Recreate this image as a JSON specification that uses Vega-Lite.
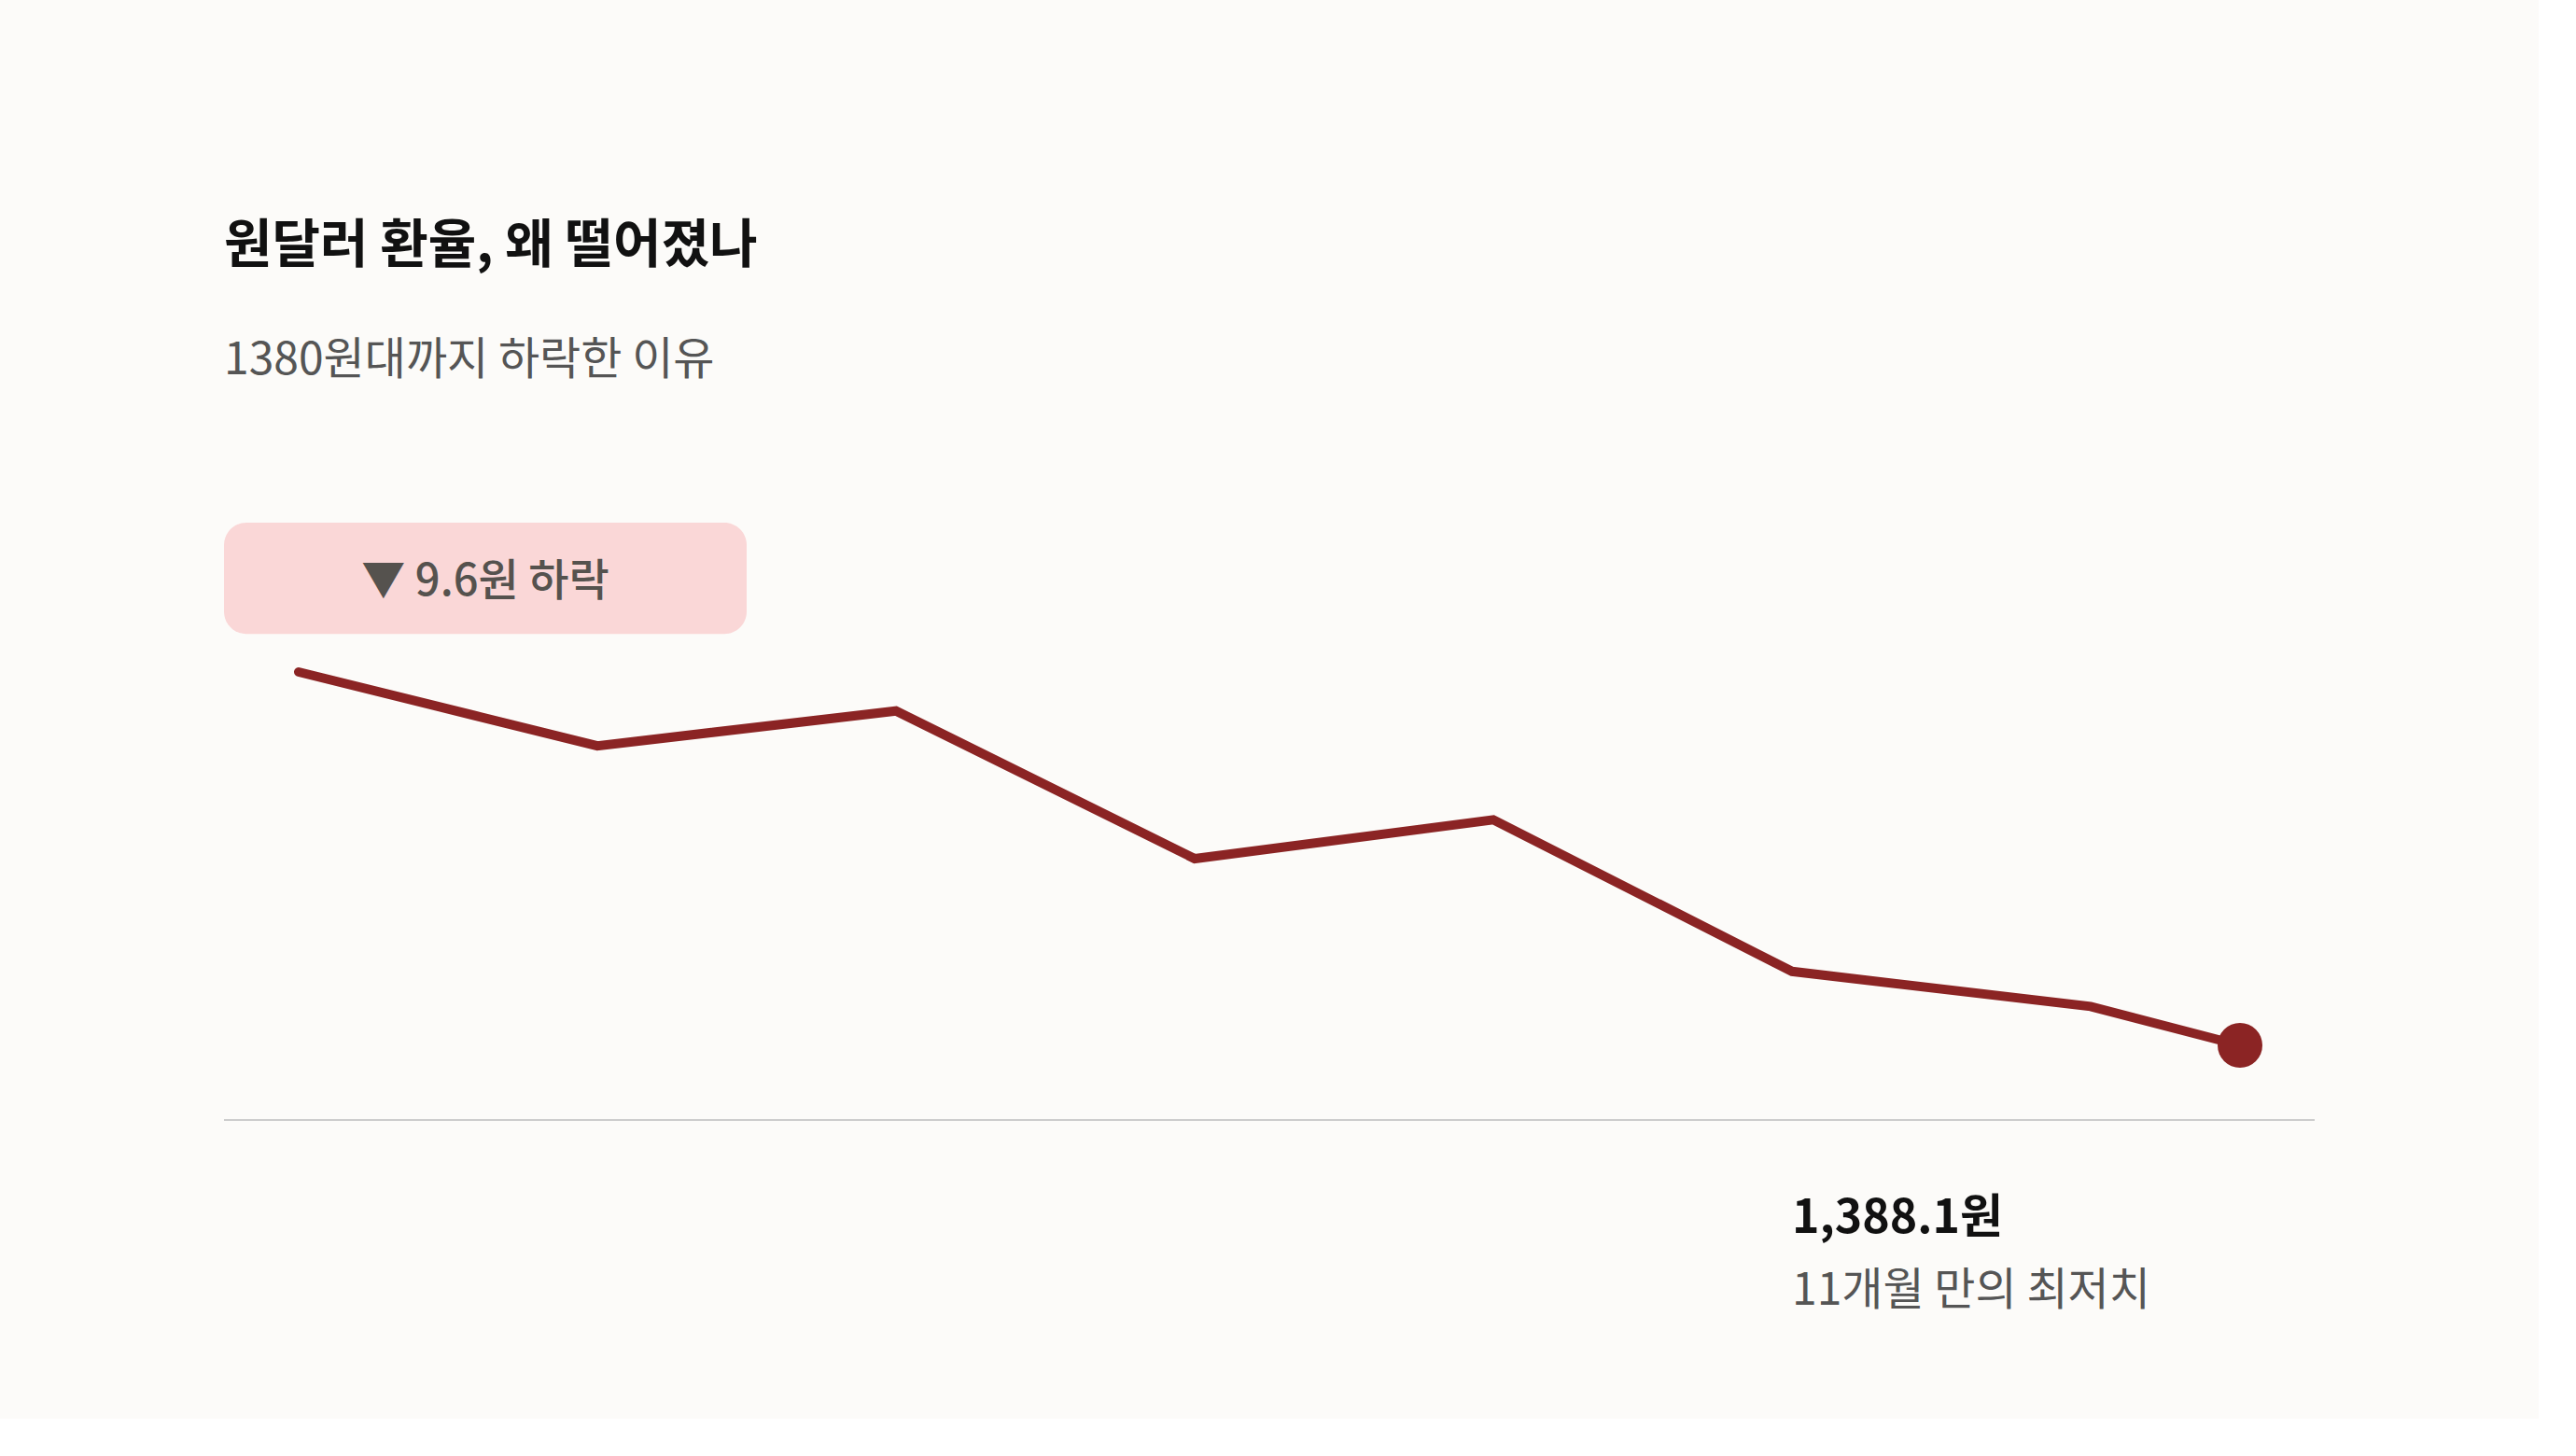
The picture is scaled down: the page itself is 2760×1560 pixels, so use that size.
{
  "$schema": "https://vega.github.io/schema/vega-lite/v6.json",
  "width": 2240,
  "height": 640,
  "autosize": {"type": "none"},
  "padding": {"left": 240, "top": 560, "right": 240, "bottom": 320},
  "background": "#fcfbf9",
  "config": {
    "view": {"stroke": null},
    "font": "Noto Sans CJK KR",
    "axis": {"disable": true}
  },
  "title": {
    "text": "원달러 환율, 왜 떨어졌나",
    "subtitle": "1380원대까지 하락한 이유",
    "anchor": "start",
    "frame": "group",
    "font": "Noto Sans CJK KR",
    "fontSize": 56,
    "fontWeight": "bold",
    "color": "#111111",
    "subtitleFont": "Noto Sans CJK KR",
    "subtitleFontSize": 48,
    "subtitleFontWeight": "normal",
    "subtitleColor": "#555555",
    "subtitlePadding": 70,
    "offset": 148
  },
  "datasets": {
    "rate": [
      {"t": 1, "rate": 1397.7},
      {"t": 2, "rate": 1395.8},
      {"t": 3, "rate": 1396.7},
      {"t": 4, "rate": 1392.9},
      {"t": 5, "rate": 1393.9},
      {"t": 6, "rate": 1390.0},
      {"t": 7, "rate": 1389.1},
      {"t": 7.5, "rate": 1388.1}
    ],
    "badge": [{"label": "▼ 9.6원 하락"}],
    "value": [{"label": "1,388.1원"}],
    "note": [{"label": "11개월 만의 최저치"}]
  },
  "layer": [
    {
      "data": {"name": "badge"},
      "mark": {"type": "rect", "color": "#fad7d7", "cornerRadius": 24},
      "encoding": {
        "x": {"datum": 0.75, "type": "quantitative", "scale": {"domain": [0.75, 7.75], "nice": false, "zero": false}},
        "x2": {"datum": 2.5},
        "y": {"datum": 1401.54, "type": "quantitative", "scale": {"domain": [1386.18, 1401.54], "nice": false, "zero": false}},
        "y2": {"datum": 1398.68}
      }
    },
    {
      "data": {"name": "badge"},
      "mark": {"type": "text", "font": "Noto Sans CJK KR", "fontSize": 47, "fontWeight": 500, "color": "#55524e", "align": "center", "baseline": "middle"},
      "encoding": {
        "text": {"field": "label"},
        "x": {"datum": 1.625, "type": "quantitative"},
        "y": {"datum": 1400.0, "type": "quantitative"}
      }
    },
    {
      "data": {"values": [{}]},
      "mark": {"type": "rule", "color": "#cccccc", "strokeWidth": 2},
      "encoding": {
        "x": {"datum": 0.75, "type": "quantitative"},
        "x2": {"datum": 7.75},
        "y": {"datum": 1386.18, "type": "quantitative"}
      }
    },
    {
      "data": {"name": "rate"},
      "mark": {"type": "line", "color": "#8b2424", "strokeWidth": 10, "strokeCap": "round", "strokeJoin": "miter"},
      "encoding": {
        "x": {"field": "t", "type": "quantitative", "axis": null},
        "y": {"field": "rate", "type": "quantitative", "axis": null}
      }
    },
    {
      "data": {"name": "rate"},
      "transform": [{"filter": "datum.t == 7.5"}],
      "mark": {"type": "circle", "color": "#8b2424", "size": 2304, "opacity": 1},
      "encoding": {
        "x": {"field": "t", "type": "quantitative", "axis": null},
        "y": {"field": "rate", "type": "quantitative", "axis": null}
      }
    },
    {
      "data": {"name": "value"},
      "mark": {"type": "text", "font": "Noto Sans CJK KR", "fontSize": 50, "fontWeight": "bold", "color": "#111111", "align": "left", "baseline": "alphabetic"},
      "encoding": {
        "text": {"field": "label"},
        "x": {"datum": 6, "type": "quantitative"},
        "y": {"datum": 1383.28, "type": "quantitative"}
      }
    },
    {
      "data": {"name": "note"},
      "mark": {"type": "text", "font": "Noto Sans CJK KR", "fontSize": 48, "fontWeight": "normal", "color": "#555555", "align": "left", "baseline": "alphabetic"},
      "encoding": {
        "text": {"field": "label"},
        "x": {"datum": 6, "type": "quantitative"},
        "y": {"datum": 1381.43, "type": "quantitative"}
      }
    }
  ]
}
